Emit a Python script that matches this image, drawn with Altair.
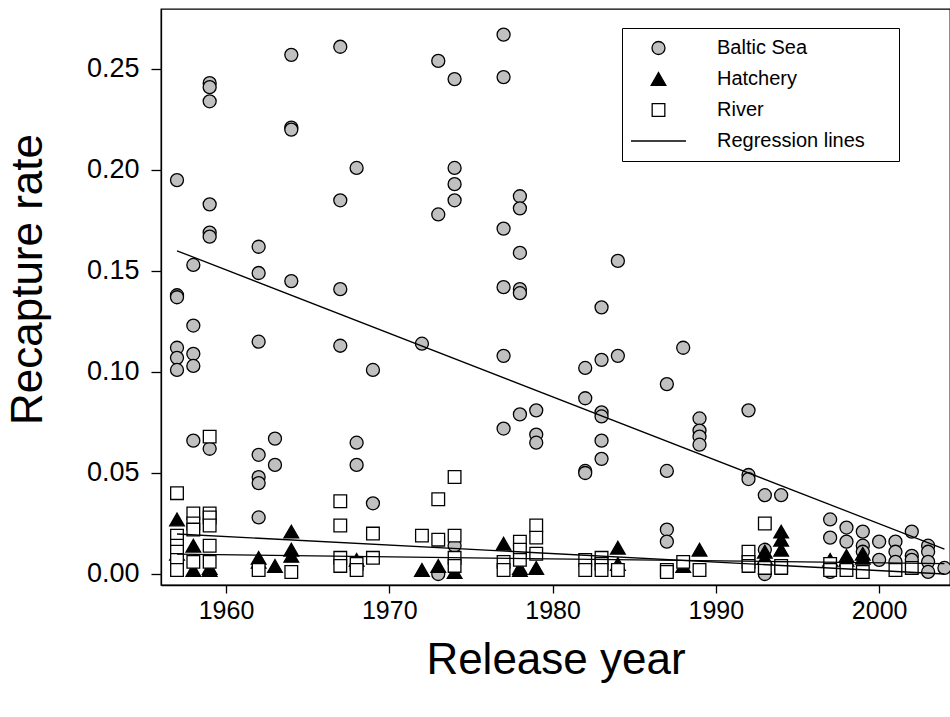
import altair as alt
import pandas as pd

groups = ["Baltic Sea", "Hatchery", "River", "Regression lines"]

baltic_year = [
    1957, 1957, 1957, 1957, 1957, 1957,
    1958, 1958, 1958, 1958, 1958,
    1959, 1959, 1959, 1959, 1959, 1959, 1959,
    1962, 1962, 1962, 1962, 1962, 1962, 1962,
    1963, 1963,
    1964, 1964, 1964, 1964,
    1967, 1967, 1967, 1967,
    1968, 1968, 1968,
    1969, 1969,
    1972,
    1973, 1973, 1973,
    1974, 1974, 1974, 1974, 1974,
    1977, 1977, 1977, 1977, 1977, 1977,
    1978, 1978, 1978, 1978, 1978, 1978,
    1979, 1979, 1979,
    1982, 1982, 1982, 1982,
    1983, 1983, 1983, 1983, 1983, 1983,
    1984, 1984,
    1987, 1987, 1987, 1987,
    1988,
    1989, 1989, 1989, 1989,
    1992, 1992, 1992,
    1993, 1993, 1993,
    1994,
    1997, 1997, 1997,
    1998, 1998,
    1999, 1999, 1999,
    2000, 2000,
    2001, 2001, 2001,
    2002, 2002, 2002,
    2003, 2003, 2003, 2003,
    2004,
]
baltic_rate = [
    0.195, 0.138, 0.137, 0.112, 0.107, 0.101,
    0.153, 0.123, 0.109, 0.103, 0.066,
    0.243, 0.241, 0.234, 0.183, 0.169, 0.167, 0.062,
    0.162, 0.149, 0.115, 0.059, 0.048, 0.045, 0.028,
    0.067, 0.054,
    0.257, 0.221, 0.220, 0.145,
    0.261, 0.185, 0.141, 0.113,
    0.201, 0.065, 0.054,
    0.101, 0.035,
    0.114,
    0.254, 0.178, 0.000,
    0.245, 0.201, 0.193, 0.185, 0.014,
    0.267, 0.246, 0.171, 0.142, 0.108, 0.072,
    0.187, 0.181, 0.159, 0.141, 0.139, 0.079,
    0.081, 0.069, 0.065,
    0.102, 0.087, 0.051, 0.050,
    0.132, 0.106, 0.080, 0.078, 0.066, 0.057,
    0.155, 0.108,
    0.094, 0.051, 0.022, 0.016,
    0.112,
    0.077, 0.071, 0.068, 0.064,
    0.081, 0.049, 0.047,
    0.039, 0.012, 0.000,
    0.039,
    0.027, 0.018, 0.001,
    0.023, 0.016,
    0.021, 0.014, 0.011,
    0.016, 0.007,
    0.016, 0.011, 0.006,
    0.021, 0.009, 0.007,
    0.014, 0.011, 0.006, 0.001,
    0.003,
]

hatchery_year = [1957, 1957, 1958, 1958, 1959, 1959, 1962, 1962, 1963, 1964, 1964, 1964,
                 1968, 1972, 1973, 1974, 1977, 1978, 1978, 1979, 1984, 1984, 1988, 1989,
                 1993, 1993, 1994, 1994, 1994, 1997, 1998, 1998, 1999, 1999]
hatchery_rate = [0.027, 0.010, 0.014, 0.002, 0.002, 0.003, 0.008, 0.006, 0.004, 0.021, 0.012, 0.009,
                 0.007, 0.002, 0.004, 0.001, 0.015, 0.003, 0.002, 0.003, 0.013, 0.005, 0.004, 0.012,
                 0.011, 0.008, 0.021, 0.017, 0.012, 0.007, 0.009, 0.007, 0.008, 0.010]

river_year = [1957, 1957, 1957, 1957, 1957, 1957,
              1958, 1958, 1958, 1958,
              1959, 1959, 1959, 1959, 1959, 1959,
              1962, 1964,
              1967, 1967, 1967, 1967,
              1968, 1968,
              1969, 1969,
              1972,
              1973, 1973,
              1974, 1974, 1974, 1974,
              1977, 1977,
              1978, 1978, 1978,
              1979, 1979, 1979,
              1982, 1982,
              1983, 1983, 1983,
              1984,
              1987, 1987,
              1988, 1989,
              1992, 1992, 1992,
              1993, 1993,
              1994, 1994,
              1997, 1997,
              1998, 1999, 2001, 2002]
river_rate = [0.040, 0.019, 0.014, 0.011, 0.007, 0.002,
              0.030, 0.025, 0.022, 0.006,
              0.068, 0.030, 0.028, 0.024, 0.014, 0.006,
              0.002, 0.001,
              0.036, 0.024, 0.008, 0.004,
              0.005, 0.002,
              0.020, 0.008,
              0.019,
              0.037, 0.017,
              0.048, 0.019, 0.008, 0.004,
              0.006, 0.002,
              0.016, 0.012, 0.007,
              0.024, 0.018, 0.010,
              0.007, 0.002,
              0.008, 0.005, 0.002,
              0.002,
              0.002, 0.001,
              0.006, 0.002,
              0.011, 0.006, 0.004,
              0.025, 0.003,
              0.004, 0.003,
              0.005, 0.002,
              0.002, 0.001, 0.002, 0.003]

# regression line end points
reg_group = ["Baltic Sea", "Baltic Sea", "Hatchery", "Hatchery", "River", "River"]
reg_year = [1957, 2004, 1957, 2004, 1957, 2004]
reg_rate = [0.160, 0.0123, 0.0098, 0.0051, 0.0198, 0.0000]

x_ticks = [1960, 1970, 1980, 1990, 2000]
y_ticks = [0.00, 0.05, 0.10, 0.15, 0.20, 0.25]

pts = pd.concat([
    pd.DataFrame({"year": baltic_year, "rate": baltic_rate, "group": "Baltic Sea"}),
    pd.DataFrame({"year": hatchery_year, "rate": hatchery_rate, "group": "Hatchery"}),
    pd.DataFrame({"year": river_year, "rate": river_rate, "group": "River"}),
], ignore_index=True)
reg = pd.DataFrame({"year": reg_year, "rate": reg_rate, "group": reg_group})

FONT = "Liberation Sans"

x_enc = alt.X(
    "year:Q",
    scale=alt.Scale(domain=[1956.02, 2004.34], nice=False, zero=False),
    axis=alt.Axis(values=x_ticks, format="d", title="Release year", grid=False,
                  tickSize=8, labelPadding=5, labelFontSize=25, titleFontSize=44,
                  titleY=88, titleBaseline="alphabetic"),
)
y_enc = alt.Y(
    "rate:Q",
    scale=alt.Scale(domain=[-0.00545, 0.2797], nice=False, zero=False),
    axis=alt.Axis(values=y_ticks, format=".2f", title="Recapture rate", grid=False,
                  tickSize=10, labelPadding=12, labelFontSize=27, titleFontSize=44,
                  titleX=-120, titleY=270, titleBaseline="alphabetic", titleAngle=270),
)

legend = alt.Legend(
    title="\u00a0", titleOrient="right", titlePadding=26, titleFontSize=10,
    orient="none", legendX=461, legendY=19,
    padding=8, strokeColor="black", fillColor="white",
    clipHeight=24, rowPadding=7, labelOffset=30,
    labelFontSize=20, labelFont=FONT, labelColor="black",
    symbolStrokeColor="black", symbolStrokeWidth=1.3,
)

points = alt.Chart(pts).mark_point(
    filled=True, strokeWidth=1.3, opacity=1
).encode(
    x=x_enc,
    y=y_enc,
    shape=alt.Shape("group:N", scale=alt.Scale(domain=groups,
                    range=["circle", "triangle-up", "square", "stroke"]), legend=legend),
    fill=alt.Fill("group:N", scale=alt.Scale(domain=groups,
                  range=["#c0c0c0", "#000000", "#ffffff", "transparent"]), legend=legend),
    stroke=alt.Stroke("group:N", scale=alt.Scale(domain=groups,
                      range=["#000000", "#000000", "#000000", "#000000"]), legend=legend),
    size=alt.Size("group:N", scale=alt.Scale(type="ordinal", domain=groups,
                  range=[169, 215, 160, 3025]), legend=legend),
)

lines = alt.Chart(reg).mark_line(color="black", strokeWidth=1.3).encode(
    x="year:Q", y="rate:Q", detail="group:N"
)

chart = alt.layer(points, lines).properties(
    width=789, height=576,
    autosize=alt.AutoSizeParams(type="none"),
    padding={"left": 161, "top": 9, "right": 0, "bottom": 132},
    background="white",
).configure_view(
    stroke="black", strokeWidth=1.3
).configure_axis(
    domainColor="black", domainWidth=1.3, tickColor="black", tickWidth=1.3,
    labelColor="black", titleColor="black", labelFont=FONT, titleFont=FONT,
    titleFontWeight="normal",
)

chart.save("out.html", embed_options={"renderer": "svg", "actions": False})
